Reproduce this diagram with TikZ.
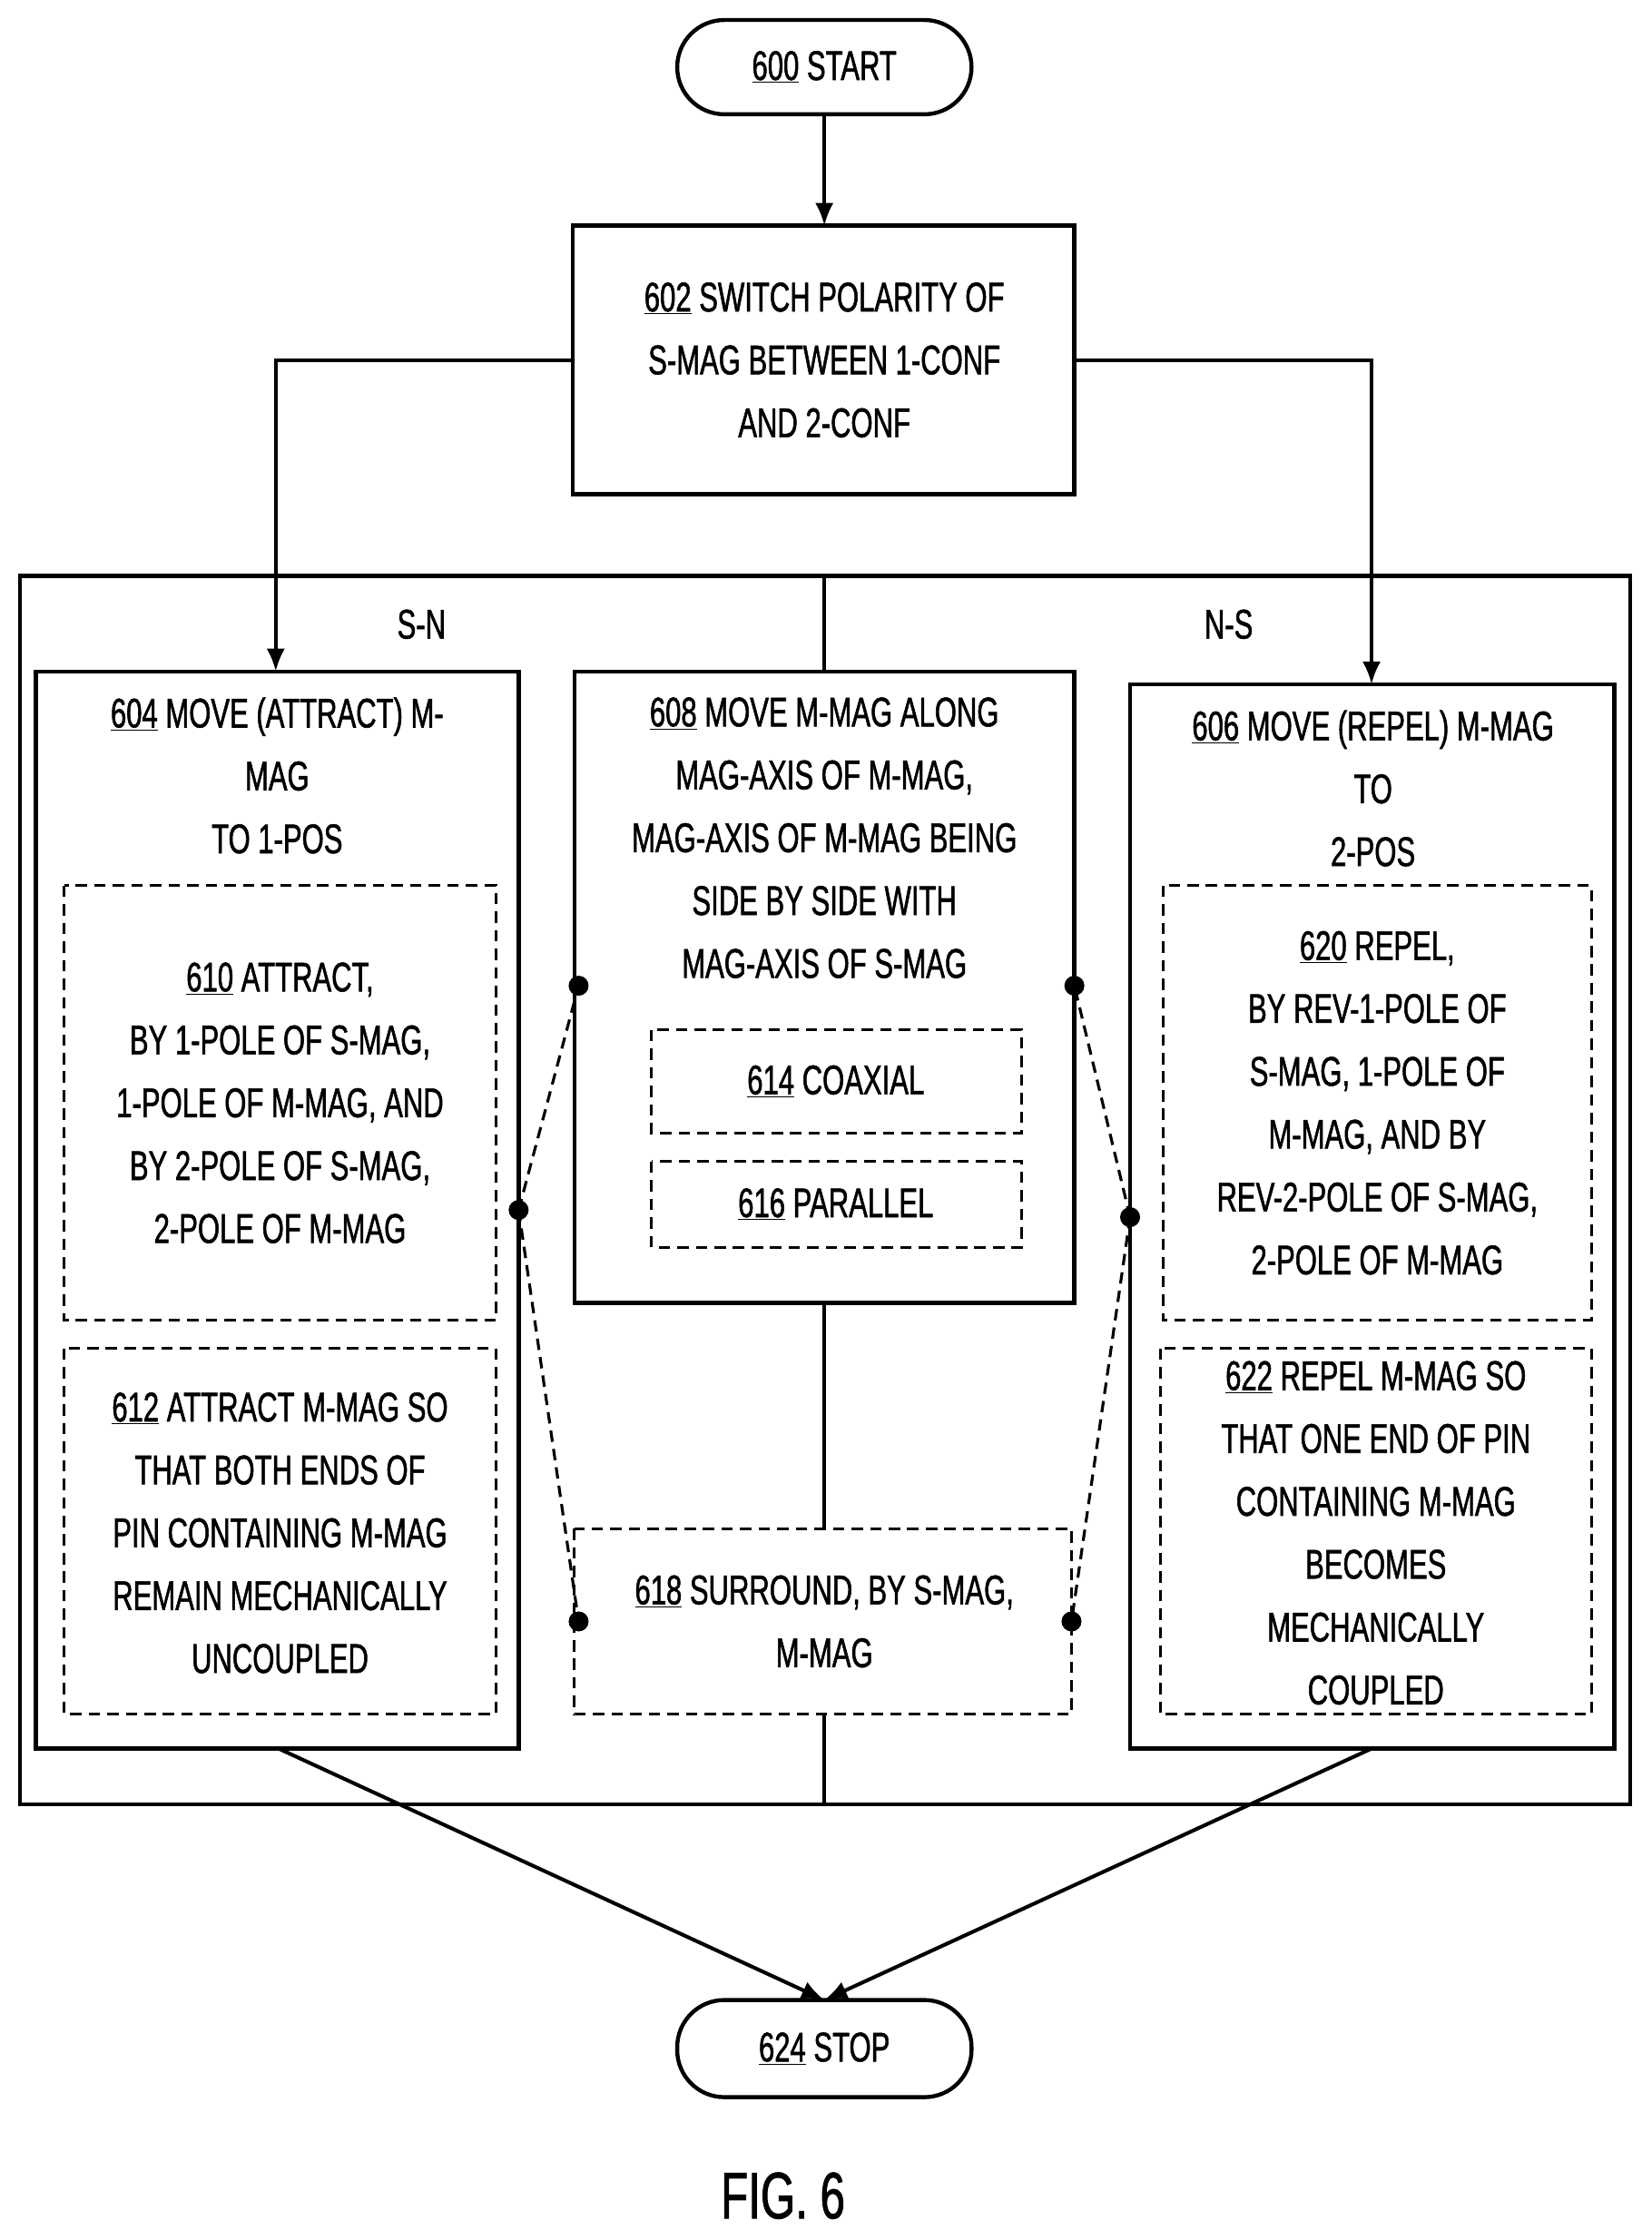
\documentclass[tikz,border=0pt]{standalone}
\usepackage{fontspec}
\setmainfont[FakeStretch=0.68,FakeBold=1.2]{Liberation Sans}
\usetikzlibrary{positioning}
\usetikzlibrary{arrows.meta}
\begin{document}
\begin{tikzpicture}
[
x=1pt, y=-1pt,
box-a/.style={draw, line width=2.8pt},
box-d/.style={draw, line width=2pt, dash pattern=on 8pt off 5pt},
pill-a/.style={draw, line width=2.8pt, rounded corners=33pt},
text-a/.style={font=\fontsize{29}{44}\selectfont, align=center, inner sep=0pt},
line-a/.style={line width=2.8pt},
arrow-a/.style={line width=2.6pt, -{Latex[length=16pt,width=13pt]}},
dash-a/.style={line width=2pt, dash pattern=on 8pt off 5pt},
dot-a/.style={circle, fill=black, inner sep=0pt, minimum size=14pt},
]
\useasboundingbox (0,0) rectangle (1156,1568);
% boxes
\draw [pill-a] (474,14) rectangle (680,80);
\node (n600) [text-a] at (577,47) {\underline{600} START};
\draw [box-a] (401,158) rectangle (752,346);
\node (n602) [text-a] at (577,252) {\underline{602} SWITCH POLARITY OF\\S-MAG BETWEEN 1-CONF\\AND 2-CONF};
\draw [box-a] (14,403) rectangle (1141,1263);
\node (sn) [text-a] at (295,437) {S-N};
\node (ns) [text-a] at (860,437) {N-S};
\draw [box-a] (25,470) rectangle (363,1224);
\node (n604) [text-a, anchor=north] at (194,488) {\underline{604} MOVE (ATTRACT) M-\\MAG\\TO 1-POS};
\draw [box-d] (45,620) rectangle (347,924);
\node (n610) [text-a] at (196,772) {\underline{610} ATTRACT,\\BY 1-POLE OF S-MAG,\\1-POLE OF M-MAG, AND\\BY 2-POLE OF S-MAG,\\2-POLE OF M-MAG};
\draw [box-d] (45,944) rectangle (347,1200);
\node (n612) [text-a] at (196,1073) {\underline{612} ATTRACT M-MAG SO\\THAT BOTH ENDS OF\\PIN CONTAINING M-MAG\\REMAIN MECHANICALLY\\UNCOUPLED};
\draw [box-a] (402,470) rectangle (752,912);
\node (n608) [text-a, anchor=north] at (577,488) {\underline{608} MOVE M-MAG ALONG\\MAG-AXIS OF M-MAG,\\MAG-AXIS OF M-MAG BEING\\SIDE BY SIDE WITH\\MAG-AXIS OF S-MAG};
\draw [box-d] (456,721) rectangle (715,793);
\node (n614) [text-a] at (585,757) {\underline{614} COAXIAL};
\draw [box-d] (456,813) rectangle (715,873);
\node (n616) [text-a] at (585,843) {\underline{616} PARALLEL};
\draw [box-d] (402,1070) rectangle (750,1200);
\node (n618) [text-a] at (577,1135) {\underline{618} SURROUND, BY S-MAG,\\M-MAG};
\draw [box-a] (791,479) rectangle (1130,1224);
\node (n606) [text-a, anchor=north] at (961,497) {\underline{606} MOVE (REPEL) M-MAG\\TO\\2-POS};
\draw [box-d] (814,620) rectangle (1114,924);
\node (n620) [text-a] at (964,772) {\underline{620} REPEL,\\BY REV-1-POLE OF\\S-MAG, 1-POLE OF\\M-MAG, AND BY\\REV-2-POLE OF S-MAG,\\2-POLE OF M-MAG};
\draw [box-d] (812,944) rectangle (1114,1200);
\node (n622) [text-a] at (963,1073) {\underline{622} REPEL M-MAG SO\\THAT ONE END OF PIN\\CONTAINING M-MAG\\BECOMES\\MECHANICALLY\\COUPLED};
\draw [pill-a] (474,1400) rectangle (680,1468);
\node (n624) [text-a] at (577,1434) {\underline{624} STOP};
\node (fig) [font=\fontsize{46}{50}\selectfont, inner sep=0pt] at (548,1537) {FIG. 6};
% center line
\draw [line-a] (577,403) -- (577,470);
\draw [line-a] (577,912) -- (577,1070);
\draw [line-a] (577,1200) -- (577,1263);
% connectors
\draw [arrow-a] (577,80) -- (577,158);
\draw [arrow-a] (401,252) -- (193,252) -- (193,470);
\draw [arrow-a] (752,252) -- (960,252) -- (960,479);
\draw [arrow-a] (195,1224) -- (577,1400);
\draw [arrow-a] (960,1224) -- (577,1400);
% dots
\node (d1) [dot-a] at (405,690) {};
\node (d2) [dot-a] at (363,847) {};
\node (d3) [dot-a] at (405,1135) {};
\node (d4) [dot-a] at (752,690) {};
\node (d5) [dot-a] at (791,852) {};
\node (d6) [dot-a] at (750,1135) {};
\draw [dash-a] (d2.center) -- (d1.center);
\draw [dash-a] (d2.center) -- (d3.center);
\draw [dash-a] (d5.center) -- (d4.center);
\draw [dash-a] (d5.center) -- (d6.center);
\end{tikzpicture}
\end{document}
